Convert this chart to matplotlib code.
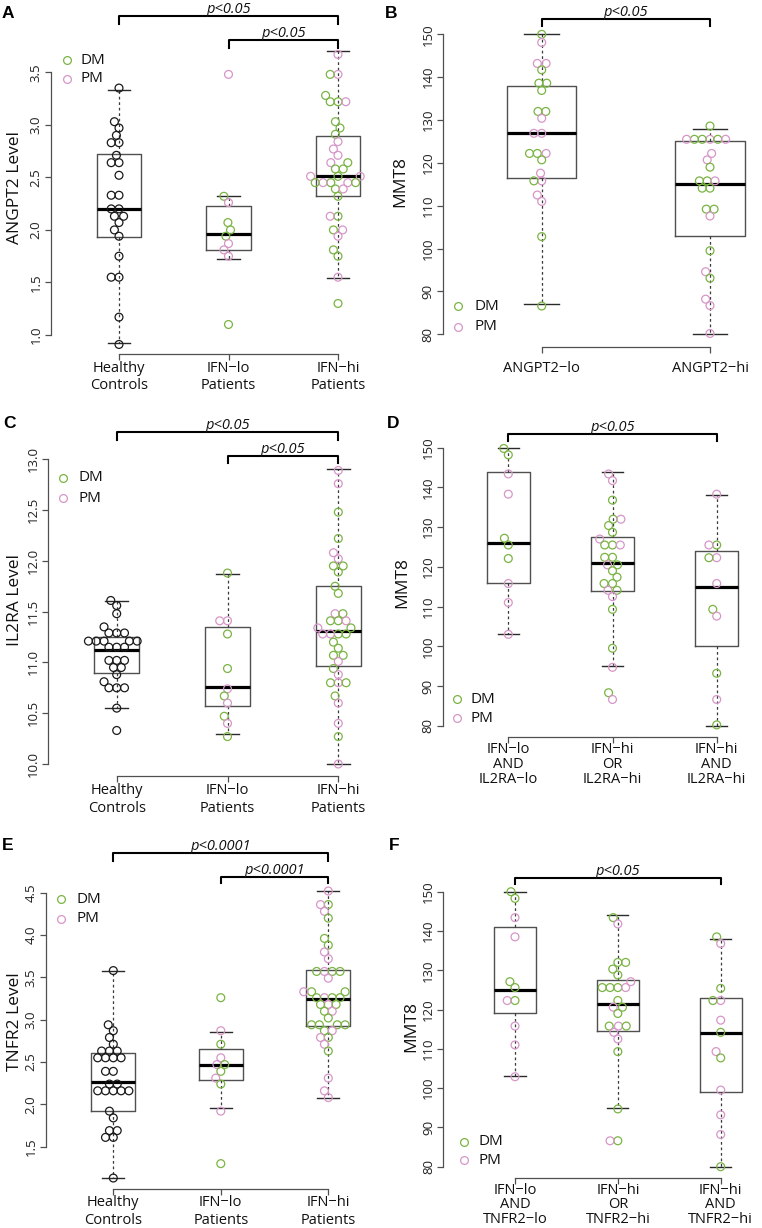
import numpy as np
import matplotlib
matplotlib.use("Agg")
import matplotlib.pyplot as plt
from matplotlib.lines import Line2D
from matplotlib.transforms import blended_transform_factory

# ------------------------------------------------------------------ DATA
# Panel A : ANGPT2 level
A_labels = ["Healthy\nControls", "IFN\u2212lo\nPatients", "IFN\u2212hi\nPatients"]
A_hc = [3.35, 3.03, 2.97, 2.90, 2.83, 2.83, 2.71, 2.64, 2.64, 2.52, 2.33, 2.33,
        2.20, 2.20, 2.13, 2.13, 2.07, 2.00, 1.94, 1.75, 1.55, 1.55, 1.17, 0.91]
A_lo = [3.48, 2.32, 2.26, 2.07, 2.00, 1.94, 1.87, 1.81, 1.75, 1.10]
A_lo_type = "PDPDDDPPPD"
A_hi = [3.67, 3.48, 3.48, 3.28, 3.22, 3.22, 3.22, 3.03, 2.97, 2.91, 2.84, 2.77,
        2.71, 2.64, 2.64, 2.58, 2.58, 2.51, 2.51, 2.51, 2.45, 2.45, 2.45, 2.45,
        2.45, 2.39, 2.39, 2.32, 2.13, 2.13, 2.00, 2.00, 1.94, 1.81, 1.75, 1.55, 1.30]
A_hi_type = "PPDDDDPDDDPPPPDDDDPPDPPDDDPDDPDPPDDPD"
A_q1 = [1.93, 1.81, 2.32]
A_med = [2.20, 1.96, 2.51]
A_q3 = [2.72, 2.23, 2.89]
A_wlo = [0.92, 1.72, 1.54]
A_whi = [3.33, 2.32, 3.70]
A_yticks = [1.0, 1.5, 2.0, 2.5, 3.0, 3.5]

# Panel B : MMT8 by ANGPT2
B_labels = ["ANGPT2\u2212lo", "ANGPT2\u2212hi"]
B_lo = [150.0, 148.1, 143.2, 143.2, 141.7, 138.6, 138.6, 136.9, 132.0, 132.0, 130.4,
        126.9, 126.9, 122.2, 122.2, 122.2, 120.7, 117.6, 115.8, 115.8, 112.5, 111.0,
        102.8, 86.6]
B_lo_type = "DPPPDDDDDDPPPDPDDPPDPPDD"
B_hi = [128.6, 125.5, 125.5, 125.5, 125.5, 125.5, 125.5, 122.2, 120.7, 119.0, 115.8,
        115.8, 115.8, 114.1, 114.1, 109.2, 109.2, 107.6, 99.5, 94.6, 93.1, 88.2, 86.7, 80.2]
B_hi_type = "DPDDDPPPPDDPDDDDDPDPDPPP"
B_q1 = [116.4, 103.0]
B_med = [127.0, 115.1]
B_q3 = [138.0, 125.0]
B_wlo = [87.0, 80.0]
B_whi = [150.0, 128.0]
B_yticks = [80, 90, 100, 110, 120, 130, 140, 150]

# Panel C : IL2RA level
C_labels = ["Healthy\nControls", "IFN\u2212lo\nPatients", "IFN\u2212hi\nPatients"]
C_hc = [11.61, 11.56, 11.48, 11.35, 11.29, 11.29, 11.29, 11.21, 11.21, 11.21, 11.21,
        11.21, 11.15, 11.15, 11.15, 11.02, 11.02, 11.02, 10.95, 10.95, 10.88, 10.81,
        10.75, 10.75, 10.75, 10.55, 10.33]
C_lo = [11.88, 11.41, 11.41, 11.28, 10.94, 10.74, 10.67, 10.60, 10.47, 10.40, 10.27]
C_lo_type = "DPPDDPDPDPD"
C_hi = [12.89, 12.76, 12.48, 12.22, 12.08, 12.02, 11.95, 11.95, 11.89, 11.75, 11.68,
        11.48, 11.48, 11.41, 11.41, 11.41, 11.34, 11.34, 11.28, 11.28, 11.28, 11.28,
        11.20, 11.14, 11.07, 11.07, 11.01, 10.94, 10.88, 10.80, 10.80, 10.80, 10.67,
        10.60, 10.40, 10.27, 10.00]
C_hi_type = "PPDDPPDDDDDPDDDPDPDPDPDDDDPDPPDDDPPDP"
C_q1 = [10.90, 10.57, 10.96]
C_med = [11.12, 10.76, 11.31]
C_q3 = [11.25, 11.35, 11.75]
C_wlo = [10.55, 10.30, 10.00]
C_whi = [11.60, 11.87, 12.90]
C_yticks = [10.0, 10.5, 11.0, 11.5, 12.0, 12.5, 13.0]

# Panel D : MMT8 by IFN / IL2RA
D_labels = ["IFN\u2212lo\nAND\nIL2RA\u2212lo", "IFN\u2212hi\nOR\nIL2RA\u2212hi",
            "IFN\u2212hi\nAND\nIL2RA\u2212hi"]
D_g1 = [149.8, 148.2, 143.4, 138.3, 127.2, 125.5, 122.1, 115.8, 111.0, 103.0]
D_g1_type = "DDPPDDDPPP"
D_g2 = [143.4, 141.7, 136.8, 132.0, 132.0, 130.4, 128.7, 127.0, 125.5, 125.5, 125.5,
        122.4, 122.4, 120.5, 120.5, 119.0, 117.4, 115.8, 115.8, 114.1, 114.1, 112.5,
        109.3, 99.5, 94.7, 88.3, 86.6]
D_g2_type = "PPDDPDDPDDPDDPDDDDDPDPDDPDP"
D_g3 = [138.3, 125.5, 125.5, 122.3, 122.3, 115.8, 109.3, 107.6, 93.2, 86.6, 80.2]
D_g3_type = "PDPPDPDPDPD"
D_q1 = [116.0, 114.0, 100.0]
D_med = [126.0, 121.0, 115.0]
D_q3 = [144.0, 127.5, 124.0]
D_wlo = [103.0, 95.0, 80.0]
D_whi = [150.0, 144.0, 138.0]
D_yticks = [80, 90, 100, 110, 120, 130, 140, 150]

# Panel E : TNFR2 level
E_labels = ["Healthy\nControls", "IFN\u2212lo\nPatients", "IFN\u2212hi\nPatients"]
E_hc = [3.58, 2.94, 2.87, 2.79, 2.71, 2.63, 2.63, 2.63, 2.55, 2.55, 2.55, 2.55,
        2.39, 2.39, 2.24, 2.24, 2.16, 2.16, 2.16, 2.16, 2.16, 1.92, 1.84, 1.69,
        1.69, 1.61, 1.61, 1.13]
E_lo = [3.26, 2.87, 2.71, 2.55, 2.47, 2.47, 2.39, 2.31, 2.24, 1.92, 1.30]
E_lo_type = "DPDPPDDPDPD"
E_hi = [4.52, 4.36, 4.36, 4.28, 4.20, 3.96, 3.88, 3.80, 3.72, 3.57, 3.57, 3.57, 3.57,
        3.49, 3.33, 3.33, 3.33, 3.26, 3.26, 3.26, 3.26, 3.18, 3.18, 3.18, 3.10, 3.10,
        3.02, 2.94, 2.94, 2.94, 2.94, 2.87, 2.87, 2.79, 2.79, 2.71, 2.63, 2.31, 2.16, 2.08]
E_hi_type = "PDPPDDDPPPDDDPDDPPDDDPDDDPDDDDDDPDPPDPPP"
E_q1 = [1.92, 2.29, 2.93]
E_med = [2.26, 2.46, 3.25]
E_q3 = [2.61, 2.65, 3.59]
E_wlo = [1.13, 1.96, 2.07]
E_whi = [3.58, 2.85, 4.52]
E_yticks = [1.5, 2.0, 2.5, 3.0, 3.5, 4.0, 4.5]

# Panel F : MMT8 by IFN / TNFR2
F_labels = ["IFN\u2212lo\nAND\nTNFR2\u2212lo", "IFN\u2212hi\nOR\nTNFR2\u2212hi",
            "IFN\u2212hi\nAND\nTNFR2\u2212hi"]
F_g1 = [150.0, 148.3, 143.4, 138.5, 127.1, 125.6, 122.3, 122.3, 115.8, 111.0, 102.9]
F_g1_type = "DDPPDDDPPPP"
F_g2 = [143.4, 141.8, 132.0, 132.0, 130.3, 128.8, 127.1, 125.6, 125.6, 125.6, 125.6,
        122.3, 120.6, 120.6, 119.0, 115.8, 115.8, 115.8, 114.2, 112.5, 109.3, 94.7,
        86.6, 86.6]
F_g2_type = "DPDDDDPDDPDDPDDPDDPPDDDP"
F_g3 = [138.5, 136.8, 125.4, 122.3, 122.3, 117.3, 114.2, 109.3, 107.7, 99.5, 93.2,
        88.2, 80.0]
F_g3_type = "DPDPDPDPDPPPD"
F_q1 = [119.0, 114.5, 99.0]
F_med = [125.0, 121.5, 114.0]
F_q3 = [141.0, 127.5, 123.0]
F_wlo = [103.0, 95.0, 80.0]
F_whi = [150.0, 144.0, 138.0]
F_yticks = [80, 90, 100, 110, 120, 130, 140, 150]

# ------------------------------------------------------------------ STYLE
W, H, DPI = 762, 1228, 100
plt.rcParams['font.family'] = ['Open Sans', 'DejaVu Sans']
GREEN = '#7ab443'
PINK = '#d796c8'
BLACKPT = '#1a1a1a'
COLMAP = {'H': BLACKPT, 'D': GREEN, 'P': PINK}
GRAY = '#505050'
TXT = '#111111'

fig = plt.figure(figsize=(W / DPI, H / DPI), dpi=DPI)


def fx(px):
    return px / W


def fy(py):
    return 1 - py / H


def make_axes(L, R, top, bottom, x1, xN, n, ya, yb):
    ax = fig.add_axes([fx(L), fy(bottom), (R - L) / W, (bottom - top) / H])
    sx = (xN - x1) / (n - 1)
    ax.set_xlim(1 - (x1 - L) / sx, 1 + (R - x1) / sx)
    (va, pa), (vb, pb) = ya, yb
    sy = (pa - pb) / (vb - va)
    ax.set_ylim(va - (bottom - pa) / sy, va + (pa - top) / sy)
    ax.patch.set_visible(False)
    return ax


def swarm(ypx, d):
    ypx = np.asarray(ypx, float)
    order = np.argsort(ypx, kind='stable')
    px_, py_ = [], []
    xs = np.zeros(len(ypx))
    for i in order:
        y = ypx[i]
        cands = [0.0]
        for xj, yj in zip(px_, py_):
            dy = abs(y - yj)
            if dy < d:
                dx = np.sqrt(d * d - dy * dy)
                cands += [xj - dx, xj + dx]
        cands = sorted(cands, key=lambda c: (abs(c), c))
        chosen = cands[-1]
        for c in cands:
            if all((c - xj) ** 2 + (y - yj) ** 2 >= d * d - 1e-6 for xj, yj in zip(px_, py_)):
                chosen = c
                break
        xs[i] = chosen
        px_.append(chosen)
        py_.append(y)
    return xs


def draw_panel(ax, vals, types, q1, med, q3, wlo, whi, yticks, yfmt,
               labels, lab_y0, lab_dy):
    n = len(vals)
    pos = np.arange(1, n + 1)
    stats = [dict(q1=q1[i], med=med[i], q3=q3[i], whislo=wlo[i], whishi=whi[i])
             for i in range(n)]
    ax.bxp(stats, positions=pos, widths=0.41, showfliers=False, manage_ticks=False,
           boxprops=dict(color=GRAY, lw=1.0),
           whiskerprops=dict(color='#3a3a3a', lw=0.9, ls=(0, (2.2, 2.2))),
           capprops=dict(color='#2a2a2a', lw=1.0),
           medianprops=dict(color='black', lw=2.3, solid_capstyle='butt'))
    sxpx = ax.transData.transform((1, 0))[0] - ax.transData.transform((0, 0))[0]
    for i in range(n):
        v = np.asarray(vals[i], float)
        ydisp = ax.transData.transform(np.column_stack([np.full(len(v), pos[i]), v]))[:, 1]
        off = swarm(ydisp, 7.8)
        x = pos[i] + off / sxpx
        cols = [COLMAP[t] for t in types[i]]
        ax.scatter(x, v, s=32, facecolors='none', edgecolors=cols, linewidths=0.9,
                   zorder=3, clip_on=False)
    for s in ['top', 'right']:
        ax.spines[s].set_visible(False)
    ax.spines['left'].set_bounds(yticks[0], yticks[-1])
    ax.spines['bottom'].set_bounds(1, n)
    for s in ['left', 'bottom']:
        ax.spines[s].set_color(GRAY)
        ax.spines[s].set_linewidth(0.9)
    ax.set_yticks(yticks)
    ax.set_yticklabels([yfmt % t for t in yticks])
    ax.set_xticks(pos)
    ax.set_xticklabels([''] * n)
    ax.tick_params(direction='out', length=4.5, width=0.9, color=GRAY)
    ax.tick_params(axis='y', labelsize=9.5, pad=1.5, labelrotation=90, labelcolor='#222222')
    for t in ax.get_yticklabels():
        t.set_va('center')
    tr = blended_transform_factory(ax.transData, fig.transFigure)
    for i, lab in enumerate(labels):
        for k, line in enumerate(lab.split('\n')):
            ax.text(pos[i], fy(lab_y0 + k * lab_dy), line, transform=tr,
                    ha='center', va='center', fontsize=10.5, color=TXT)


def bracket(ax, g1, g2, py_line, py_leg, text):
    tr = blended_transform_factory(ax.transData, fig.transFigure)
    ax.add_line(Line2D([g1, g1, g2, g2], [fy(py_leg), fy(py_line), fy(py_line), fy(py_leg)],
                       transform=tr, color='black', lw=1.5, clip_on=False))
    ax.text((g1 + g2) / 2, fy(py_line - 3), text, transform=tr, ha='center',
            va='baseline', fontsize=10.5, style='italic', color=TXT)


def legend(mx, my1, my2, tx):
    for my, col, txt in [(my1, GREEN, 'DM'), (my2, PINK, 'PM')]:
        fig.add_artist(Line2D([fx(mx)], [fy(my)], marker='o', mfc='none', mec=col,
                              ms=5.6, mew=0.9, transform=fig.transFigure))
        fig.text(fx(tx), fy(my), txt, ha='left', va='center', fontsize=11, color=TXT)


def ylabel(x, y, txt):
    fig.text(fx(x), fy(y), txt, rotation=90, ha='center', va='center', fontsize=12.5,
             color=TXT)


def panel_letter(x, y, txt):
    fig.text(fx(x), fy(y), txt, ha='left', va='center', fontsize=12.5, fontweight='bold',
             family=['Liberation Sans', 'DejaVu Sans'])


# ------------------------------------------------------------------ PANEL A
axA = make_axes(51, 378, 40, 354, 119, 338, 3, (1.0, 335), (3.5, 72.3))
draw_panel(axA, [A_hc, A_lo, A_hi], ['H' * len(A_hc), A_lo_type, A_hi_type],
           A_q1, A_med, A_q3, A_wlo, A_whi, A_yticks, '%.1f', A_labels, 368, 17.7)
bracket(axA, 1, 3, 15.7, 24, 'p<0.05')
bracket(axA, 2, 3, 40, 48, 'p<0.05')
legend(66.7, 60, 79, 81)
ylabel(15, 188, 'ANGPT2 Level')
panel_letter(2, 13, 'A')

# ------------------------------------------------------------------ PANEL B
axB = make_axes(442.7, 760, 22, 346.5, 541.7, 710, 2, (80, 334.3), (150, 34.3))
draw_panel(axB, [B_lo, B_hi], [B_lo_type, B_hi_type],
           B_q1, B_med, B_q3, B_wlo, B_whi, B_yticks, '%d', B_labels, 369, 17.7)
bracket(axB, 1, 2, 19, 26, 'p<0.05')
legend(458, 306, 327, 474)
ylabel(400.7, 181.7, 'MMT8')
panel_letter(385, 13, 'B')

# ------------------------------------------------------------------ PANEL C
axC = make_axes(48.3, 378, 450, 776, 116.7, 338.3, 3, (10.0, 764), (13.0, 459.3))
draw_panel(axC, [C_hc, C_lo, C_hi], ['H' * len(C_hc), C_lo_type, C_hi_type],
           C_q1, C_med, C_q3, C_wlo, C_whi, C_yticks, '%.1f', C_labels, 790, 18)
bracket(axC, 1, 3, 432.3, 440, 'p<0.05')
bracket(axC, 2, 3, 456, 463.3, 'p<0.05')
legend(62.7, 477.7, 498.3, 78)
ylabel(15, 600, 'IL2RA Level')
panel_letter(3, 424, 'C')

# ------------------------------------------------------------------ PANEL D
axD = make_axes(442.7, 760, 436, 736.5, 508.3, 716.7, 3, (80, 725.7), (150, 447.7))
draw_panel(axD, [D_g1, D_g2, D_g3], [D_g1_type, D_g2_type, D_g3_type],
           D_q1, D_med, D_q3, D_wlo, D_whi, D_yticks, '%d', D_labels, 749.3, 15)
bracket(axD, 1, 3, 434.3, 440.7, 'p<0.05')
legend(456.7, 699.3, 718.3, 470.7)
ylabel(402.7, 583, 'MMT8')
panel_letter(387, 424, 'D')

# ------------------------------------------------------------------ PANEL E
axE = make_axes(45.7, 378, 875, 1189.3, 113.3, 328.3, 3, (1.5, 1146.7), (4.5, 892.7))
draw_panel(axE, [E_hc, E_lo, E_hi], ['H' * len(E_hc), E_lo_type, E_hi_type],
           E_q1, E_med, E_q3, E_wlo, E_whi, E_yticks, '%.1f', E_labels, 1202.7, 17.5)
bracket(axE, 1, 3, 853.3, 860.7, 'p<0.0001')
bracket(axE, 2, 3, 876.7, 883.3, 'p<0.0001')
legend(61, 899.3, 919, 76)
ylabel(15, 1021.7, 'TNFR2 Level')
panel_letter(2, 846, 'E')

# ------------------------------------------------------------------ PANEL F
axF = make_axes(443.3, 760, 880, 1177.5, 515, 720.7, 3, (80, 1166.7), (150, 891.7))
draw_panel(axF, [F_g1, F_g2, F_g3], [F_g1_type, F_g2_type, F_g3_type],
           F_q1, F_med, F_q3, F_wlo, F_whi, F_yticks, '%d', F_labels, 1190, 14.7)
bracket(axF, 1, 3, 877.7, 884, 'p<0.05')
legend(464.3, 1141.7, 1160, 479)
ylabel(411.7, 1026.7, 'MMT8')
panel_letter(389, 846, 'F')

fig.savefig('out.png', dpi=DPI)
